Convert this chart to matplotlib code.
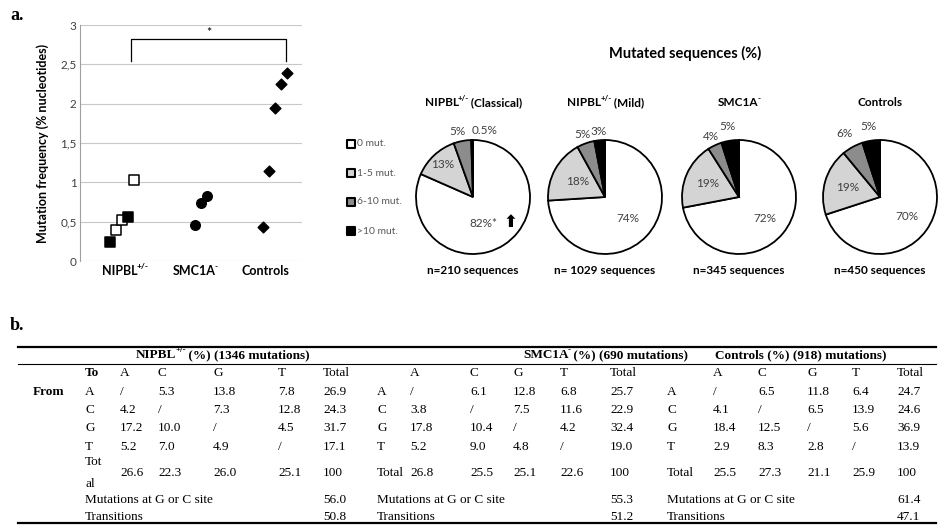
import numpy as np
import matplotlib
matplotlib.use("Agg")
from matplotlib import pyplot as plt

# --- panel a, left: mutation frequency per individual (% nucleotides)
groups = [[("NIPBL", 0), ("+/-", 1)], [("SMC1A", 0), ("-", 1)], [("Controls", 0)]]
nipbl_freq = [0.24, 0.39, 0.52, 0.56, 1.03]
nipbl_solid = [True, False, False, True, False]
smc1a_freq = [0.46, 0.74, 0.82]
control_freq = [0.43, 1.15, 1.95, 2.25, 2.39]
yticks = [0, 0.5, 1, 1.5, 2, 2.5, 3]
ytick_labels = ["0", "0,5", "1", "1,5", "2", "2,5", "3"]

# --- panel a, right: mutated sequences (%)
mut_classes = ["0 mut.", "1-5 mut.", "6-10 mut.", ">10 mut."]
pie_titles = [[("NIPBL", 0), ("+/-", 1), (" (Classical)", 0)],
              [("NIPBL", 0), ("+/-", 1), (" (Mild)", 0)],
              [("SMC1A", 0), ("-", 1)],
              [("Controls", 0)]]
pie_counts = ["n=210 sequences", "n= 1029 sequences", "n=345 sequences", "n=450 sequences"]
pie_values = [
    [82, 13, 5, 0.5],
    [74, 18, 5, 3],
    [72, 19, 4, 5],
    [70, 19, 6, 5],
]

# --- panel b: substitution spectra (%), rows From A/C/G/T, cols To A/C/G/T/Total
bases = ["A", "C", "G", "T"]
tab_titles = [[("NIPBL", 0), ("+/-", 1), (" (%) (1346 mutations)", 0)],
              [("SMC1A", 0), ("-", 1), (" (%) (690 mutations)", 0)],
              [("Controls (%) (918) mutations)", 0)]]
nipbl_tab = [[None, 5.3, 13.8, 7.8, 26.9],
             [4.2, None, 7.3, 12.8, 24.3],
             [17.2, 10.0, None, 4.5, 31.7],
             [5.2, 7.0, 4.9, None, 17.1]]
nipbl_tot = [26.6, 22.3, 26.0, 25.1, 100]
smc1a_tab = [[None, 6.1, 12.8, 6.8, 25.7],
             [3.8, None, 7.5, 11.6, 22.9],
             [17.8, 10.4, None, 4.2, 32.4],
             [5.2, 9.0, 4.8, None, 19.0]]
smc1a_tot = [26.8, 25.5, 25.1, 22.6, 100]
ctrl_tab = [[None, 6.5, 11.8, 6.4, 24.7],
            [4.1, None, 6.5, 13.9, 24.6],
            [18.4, 12.5, None, 5.6, 36.9],
            [2.9, 8.3, 2.8, None, 13.9]]
ctrl_tot = [25.5, 27.3, 21.1, 25.9, 100]
gc_site = [56.0, 55.3, 61.4]
transitions = [50.8, 51.2, 47.1]

W, H = 938, 528
fig = plt.figure(figsize=(W / 100, H / 100), dpi=100)
sans = ["Lato", "DejaVu Sans"]
serif = "Liberation Serif"

# overlay in pixel units for the table, headings and panel letters
ov = fig.add_axes([0, 0, 1, 1])
ov.set_xlim(0, W)
ov.set_ylim(H, 0)
ov.axis("off")
ov.set_zorder(5)
renderer = fig.canvas.get_renderer()


def rich(x, y, parts, size, family, weight="normal", ha="center", color="black"):
    """Write text pieces one after another, (string, superscript?)"""
    arts, cur = [], x
    for s, sup in parts:
        fsz = size * 0.68 if sup else size
        dy = -size * 0.5 if sup else 0
        t = ov.text(cur, y + dy, s, fontsize=fsz, family=family, weight=weight,
                    va="center", ha="left", color=color)
        cur += t.get_window_extent(renderer=renderer).width - 1
        arts.append(t)
    if ha == "center":
        shift = (cur - x) / 2
        for t in arts:
            t.set_x(t.get_position()[0] - shift)


ov.text(10, 16, "a.", family=serif, weight="bold", fontsize=13, va="center")
ov.text(10, 325, "b.", family=serif, weight="bold", fontsize=13, va="center")

# ---------------- scatter
ax = fig.add_axes([80 / W, (H - 261) / H, 222 / W, 236 / H])
step = 0.085
x0 = [-0.21, 0.0, -0.03]

xs = [0 + x0[0] + step * k for k in range(len(nipbl_freq))]
for x, y, solid in zip(xs, nipbl_freq, nipbl_solid):
    ax.scatter(x, y, marker="s", s=48, facecolor="black" if solid else "white",
               edgecolor="black", linewidth=1.1, zorder=3)
xs = [1 + x0[1] + step * k for k in range(len(smc1a_freq))]
ax.scatter(xs, smc1a_freq, marker="o", s=48, color="black", zorder=3)
xs = [2 + x0[2] + step * k for k in range(len(control_freq))]
ax.scatter(xs, control_freq, marker="D", s=30, color="black", zorder=3)

# significance bracket
ax.plot([0.09, 0.09, 2.3, 2.3], [2.54, 2.82, 2.82, 2.54], color="black", lw=0.9)
ax.text(1.2, 2.9, "*", ha="center", va="center", fontsize=9, family=sans)

ax.set_xlim(-0.64, 2.53)
ax.set_ylim(0, 3)
ax.set_yticks(yticks)
ax.set_yticklabels(ytick_labels, family=sans, fontsize=8.5, color="#404040")
ax.set_xticks(range(3))
ax.set_xticklabels([])
ax.tick_params(length=0, pad=2.5)
ax.grid(axis="y", color="#c8c8c8", lw=0.8)
ax.set_axisbelow(True)
for sp in ["top", "right", "bottom"]:
    ax.spines[sp].set_visible(False)
ax.spines["left"].set_color("#a0a0a0")
ax.set_ylabel("Mutation frequency (% nucleotides)", family=sans, fontsize=9, weight="bold")
ax.yaxis.set_label_coords(-0.14, 0.5)

for i, parts in enumerate(groups):
    px = ax.transData.transform((i, 0))[0]
    rich(px, 271, parts, 9, sans, weight="bold")

# ---------------- pies
colors = ["white", "#d4d4d4", "#8c8c8c", "black"]
centers = [473, 605, 739, 880]
cy, rad = 197, 57
lab_r = [[0.55, 0.78, 1.17, 1.17],
         [0.55, 0.55, 1.17, 1.15],
         [0.58, 0.6, 1.17, 1.25],
         [0.58, 0.6, 1.28, 1.25]]
lab_dx = [[-0.12, 0, -0.05, 0.22], [0, 0, 0, 0], [0, 0, 0, 0], [0, 0, 0, 0]]

ov.text(685, 53, "Mutated sequences (%)", family=sans, weight="bold", fontsize=10.5,
        ha="center", va="center")

for i, vals in enumerate(pie_values):
    cx = centers[i]
    half = 1.4 * rad
    pa = fig.add_axes([(cx - half) / W, (H - cy - half) / H, 2 * half / W, 2 * half / H])
    pa.pie(vals, colors=colors, startangle=90, counterclock=False,
           wedgeprops=dict(edgecolor="black", linewidth=1.3))
    pa.set_xlim(-1.4, 1.4)
    pa.set_ylim(-1.4, 1.4)
    pa.set_aspect("equal")
    pa.axis("off")
    frac = np.cumsum(vals) / np.sum(vals)
    starts = np.concatenate([[0], frac[:-1]])
    for j, v in enumerate(vals):
        ang = np.deg2rad(90 - 360 * (starts[j] + frac[j]) / 2)
        r = lab_r[i][j]
        lx = r * np.cos(ang) + lab_dx[i][j]
        ly = r * np.sin(ang)
        s = ("%g%%" % v)
        if i == 0 and j == 0:
            s += "*"
        pa.text(lx, ly, s, ha="center", va="center", fontsize=8.5,
                family=sans, color="#404040")
        if i == 0 and j == 0:
            pa.text(lx + 0.47, ly + 0.02, "\u2b06", ha="center", va="center", fontsize=12,
                    family="DejaVu Sans", weight="bold", color="black")
    rich(cx, 103, pie_titles[i], 8.5, sans, weight="bold")
    ov.text(cx, 270, pie_counts[i], family=sans, weight="bold", fontsize=8.5,
            ha="center", va="center")

# legend
for k, (name, c) in enumerate(zip(mut_classes, colors)):
    y = 144 + 29 * k
    ov.scatter(351, y, marker="s", s=30, facecolor=c, edgecolor="black", linewidth=1.5)
    ov.text(357, y, name, family=sans, fontsize=7.5, color="#595959", va="center")

# ---------------- table
fs = 9.5
ov.plot([18, 936], [347, 347], color="black", lw=1.6)
ov.plot([18, 936], [364, 364], color="black", lw=0.8)
ov.plot([18, 936], [523, 523], color="black", lw=1.6)

lab_x = [85, 377, 667]
col_x = [[120, 158, 213, 278, 323],
         [410, 470, 513, 560, 610],
         [713, 758, 807, 852, 897]]
title_x = [222, 605, 800]
row_y = [392, 410, 428, 447]
head_y, tot_y, gc_y, tr_y = 373, 473, 500, 517


def fmt(v):
    if v is None:
        return "/"
    if v == 100:
        return "100"
    return "%.1f" % v


ov.text(33, row_y[0], "From", family=serif, weight="bold", fontsize=fs, va="center")
tables = [(nipbl_tab, nipbl_tot), (smc1a_tab, smc1a_tot), (ctrl_tab, ctrl_tot)]
for g, (tab, tot) in enumerate(tables):
    rich(title_x[g], 355, tab_titles[g], fs, serif, weight="bold")
    if g == 0:
        ov.text(lab_x[g], head_y, "To", family=serif, weight="bold", fontsize=fs, va="center")
    for c, name in enumerate(bases + ["Total"]):
        ov.text(col_x[g][c], head_y, name, family=serif, fontsize=fs, va="center")
    for r, row in enumerate(tab):
        ov.text(lab_x[g], row_y[r], bases[r], family=serif, fontsize=fs, va="center")
        for c, v in enumerate(row):
            ov.text(col_x[g][c], row_y[r], fmt(v), family=serif, fontsize=fs, va="center")
    if g == 0:
        ov.text(lab_x[g], 462, "Tot", family=serif, fontsize=fs, va="center")
        ov.text(lab_x[g], 484, "al", family=serif, fontsize=fs, va="center")
    else:
        ov.text(lab_x[g], tot_y, "Total", family=serif, fontsize=fs, va="center")
    for c, v in enumerate(tot):
        ov.text(col_x[g][c], tot_y, fmt(v), family=serif, fontsize=fs, va="center")
    ov.text(lab_x[g], gc_y, "Mutations at G or C site", family=serif, fontsize=fs, va="center")
    ov.text(col_x[g][4], gc_y, fmt(gc_site[g]), family=serif, fontsize=fs, va="center")
    ov.text(lab_x[g], tr_y, "Transitions", family=serif, fontsize=fs, va="center")
    ov.text(col_x[g][4], tr_y, fmt(transitions[g]), family=serif, fontsize=fs, va="center")

fig.savefig("out.png", dpi=100)
